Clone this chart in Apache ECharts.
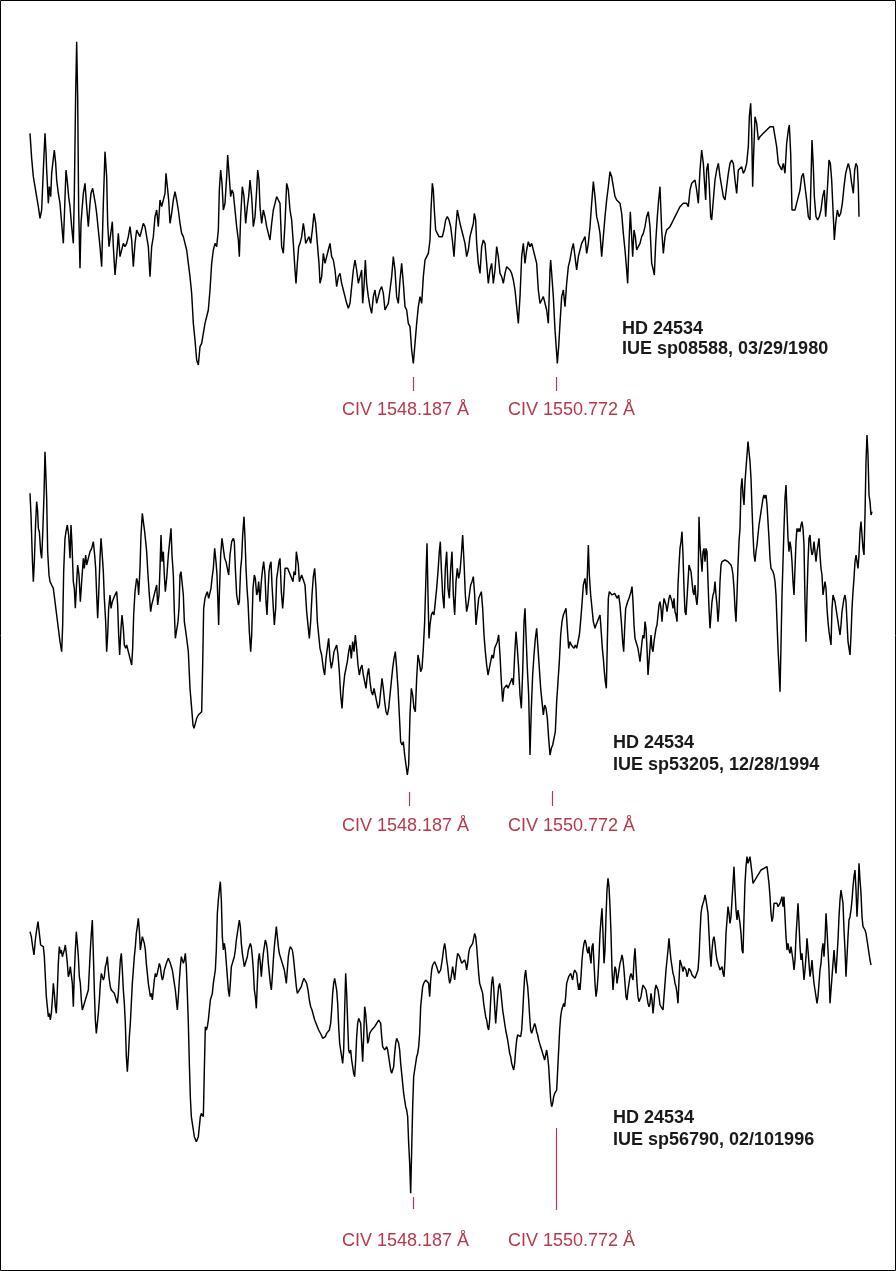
<!DOCTYPE html>
<html>
<head>
<meta charset="utf-8">
<script src="https://cdn.jsdelivr.net/npm/echarts@6/dist/echarts.min.js"></script>
<style>
html,body{margin:0;padding:0;background:#fff}
#chart{width:896px;height:1271px}
</style>
</head>
<body>
<div id="chart"></div>
<script>
// IUE SWP high-dispersion spectra of HD 24534 around the C IV resonance doublet.
// Each spectrum is a list of [sample, flux] pairs; samples are turned into
// wavelengths with a linear dispersion relation (one zero point per exposure).
const zeroPoints = [1540.7213, 1540.7936, 1540.7213]; // wavelength (Å) at sample 0
const DISPERSION = 0.0060256;  // Å per sample
const SAMPLE_SPAN = 2688;      // samples across the plotted window

const civLines = [1548.187, 1550.772];
const civLabels = ['CIV 1548.187 Å', 'CIV 1550.772 Å'];

const starName = 'HD 24534';
const observations = ['IUE sp08588, 03/29/1980', 'IUE sp53205, 12/28/1994', 'IUE sp56790, 02/101996'];

const sp08588 = [
[90,790],[95,715],[100,660],[105,630],[110,600],[115,570],[120,535],[125,560],[130,680],[135,790],[138,735],[140,680],[145,580],[148,630],[152,600],[155,670],[160,715],[163,740],[167,700],[170,650],[175,610],[180,580],[185,520],[190,460],[193,540],[198,680],[202,645],[206,600],[210,570],[215,510],[220,460],[223,610],[227,910],[230,1065],[233,900],[236,560],[240,385],[243,520],[246,560],[250,610],[255,640],[260,570],[265,510],[270,580],[273,610],[278,625],[282,620],[286,580],[290,550],[295,500],[300,450],[305,390],[310,580],[315,735],[320,660],[323,520],[327,450],[332,450],[337,525],[340,450],[345,365],[350,420],[355,490],[360,420],[365,420],[370,460],[375,450],[380,460],[385,480],[390,510],[395,470],[400,390],[405,460],[410,500],[415,490],[420,480],[425,500],[430,520],[435,510],[440,480],[445,450],[450,360],[455,450],[460,480],[465,540],[470,560],[475,510],[480,590],[485,570],[490,590],[495,610],[498,670],[502,630],[506,590],[510,520],[515,550],[520,590],[525,615],[530,590],[535,560],[540,520],[545,490],[550,480],[555,460],[560,440],[565,400],[570,360],[575,310],[580,220],[585,170],[590,110],[595,95],[600,150],[605,160],[610,190],[615,220],[620,220],[625,260],[630,320],[635,400],[640,440],[645,460],[650,450],[655,500],[658,620],[662,680],[666,640],[670,560],[675,580],[680,660],[683,725],[687,670],[692,600],[696,620],[700,610],[705,560],[710,510],[715,470],[718,420],[722,540],[727,630],[732,600],[737,520],[742,570],[746,600],[750,650],[755,600],[760,510],[765,540],[770,620],[773,680],[777,650],[780,570],[785,520],[790,560],[795,540],[800,510],[805,490],[810,470],[815,520],[820,560],[825,580],[830,600],[835,590],[840,580],[845,450],[850,430],[855,520],[860,640],[865,620],[870,560],[875,530],[880,460],[885,380],[888,340],[892,400],[896,450],[900,460],
[905,480],[910,520],[913,500],[917,460],[922,470],[927,480],[932,460],[937,500],[942,550],[947,520],[952,460],[957,400],[960,340],[965,360],[970,430],[975,400],[980,420],[985,440],[990,460],[995,420],[1000,410],[1005,380],[1010,330],[1015,360],[1020,370],[1025,340],[1030,320],[1035,300],[1040,280],[1045,265],[1050,280],[1055,330],[1060,380],[1065,410],[1070,380],[1075,340],[1080,360],[1085,380],[1088,280],[1092,330],[1096,410],[1100,340],[1105,300],[1110,270],[1115,250],[1120,300],[1125,320],[1130,280],[1135,300],[1140,320],[1145,330],[1150,310],[1155,260],[1160,260],[1165,280],[1170,320],[1175,360],[1180,420],[1185,380],[1190,300],[1195,280],[1200,350],[1205,400],[1210,340],[1215,270],[1220,260],[1225,220],[1230,210],[1235,140],[1240,100],[1245,160],[1250,220],[1255,270],[1260,300],[1265,280],[1270,360],[1275,410],[1280,420],[1285,430],[1290,470],[1293,560],[1297,640],[1300,620],[1303,560],[1307,500],[1312,490],[1317,480],[1322,480],[1327,480],[1332,500],[1337,530],[1342,540],[1347,530],[1352,510],[1357,470],[1362,420],[1367,500],[1372,560],[1375,560],[1380,520],[1385,500],[1390,500],[1395,460],[1400,420],[1405,440],[1410,480],[1415,500],[1420,520],[1423,550],[1427,530],[1430,460],[1435,400],[1440,370],[1445,450],[1450,470],[1455,460],[1460,400],[1465,340],[1470,380],[1475,400],[1480,340],[1485,380],[1490,450],[1495,420],[1500,370],[1505,360],[1510,340],[1515,370],[1520,390],[1525,390],[1530,380],[1535,370],[1540,350],[1545,320],[1550,270],[1555,220],[1560,300],[1565,420],[1570,460],[1575,400],[1580,440],[1585,465],[1590,450],[1595,460],[1600,440],[1605,440],[1610,400],[1615,320],[1620,280],[1625,290],[1630,300],[1635,300],[1640,260],[1645,220],[1650,380],[1652,410],[1655,370],[1660,300],[1665,200],[1670,130],[1672,100],[1676,150],[1680,220],[1685,300],[1690,320],[1695,270],[1700,340],[1705,390],[1710,410],[1715,440],[1720,460],[1725,420],[1730,380],[1735,420],[1740,440],
[1745,460],[1750,470],[1755,480],[1760,430],[1765,460],[1770,510],[1775,580],[1780,645],[1785,600],[1790,540],[1795,520],[1800,490],[1805,420],[1810,480],[1815,540],[1820,590],[1825,630],[1830,675],[1835,660],[1840,630],[1845,600],[1850,590],[1855,590],[1860,580],[1865,550],[1870,490],[1875,440],[1880,380],[1883,340],[1887,460],[1891,555],[1895,480],[1898,420],[1902,500],[1906,480],[1910,440],[1915,450],[1920,460],[1925,480],[1930,490],[1935,510],[1940,540],[1945,555],[1950,510],[1955,400],[1960,380],[1963,365],[1967,460],[1972,540],[1976,590],[1980,630],[1985,500],[1990,430],[1995,480],[2000,500],[2005,500],[2010,510],[2015,520],[2020,530],[2025,540],[2030,550],[2035,560],[2040,570],[2045,575],[2050,580],[2055,575],[2060,580],[2065,570],[2070,620],[2075,640],[2080,640],[2085,650],[2090,620],[2095,580],[2100,680],[2105,740],[2110,700],[2113,650],[2117,590],[2120,680],[2124,700],[2128,630],[2132,540],[2135,530],[2140,590],[2145,650],[2150,680],[2155,700],[2160,660],[2165,630],[2170,600],[2175,590],[2180,630],[2185,670],[2190,700],[2195,710],[2200,700],[2205,650],[2210,610],[2215,680],[2220,680],[2225,690],[2230,670],[2235,680],[2240,700],[2245,750],[2248,840],[2252,880],[2255,800],[2258,630],[2260,700],[2265,840],[2270,820],[2275,770],[2280,780],[2285,785],[2290,790],[2295,795],[2300,800],[2305,805],[2310,810],[2315,815],[2320,810],[2325,780],[2330,750],[2335,700],[2340,690],[2345,680],[2350,700],[2355,670],[2360,760],[2365,800],[2368,815],[2372,730],[2376,560],[2380,555],[2385,560],[2390,580],[2395,600],[2400,620],[2405,660],[2410,670],[2415,630],[2420,590],[2425,540],[2430,530],[2433,650],[2436,770],[2440,690],[2443,600],[2448,540],[2453,530],[2458,540],[2463,560],[2468,600],[2473,620],[2477,540],[2482,620],[2487,710],[2491,700],[2495,650],[2500,540],[2503,470],[2507,520],[2512,560],[2517,540],[2522,550],[2527,580],[2532,630],[2537,670],[2542,690],[2545,700],[2550,680],[2555,640],[2560,610],[2564,680],[2568,700],[2572,690],[2575,630],[2577,540]
];

const sp53205 = [
[90,955],[93,890],[97,760],[100,690],[103,750],[107,870],[110,930],[113,900],[115,850],[118,840],[122,780],[125,760],[128,830],[132,950],[135,1080],[138,1000],[140,940],[143,780],[147,710],[150,690],[155,680],[160,670],[165,630],[170,590],[175,550],[180,510],[185,480],[188,560],[191,720],[195,820],[198,840],[202,860],[206,830],[210,760],[213,860],[216,800],[220,690],[223,670],[226,610],[230,690],[233,740],[237,710],[241,630],[245,690],[250,760],[253,730],[257,770],[260,740],[265,760],[270,780],[275,790],[280,810],[284,770],[287,730],[290,650],[293,580],[296,650],[300,760],[303,820],[306,780],[310,720],[313,640],[317,570],[320,480],[323,530],[326,610],[330,650],[333,610],[337,630],[341,640],[345,650],[350,660],[353,620],[356,530],[359,470],[363,550],[366,590],[370,550],[373,500],[377,490],[380,500],[385,480],[390,480],[395,440],[398,490],[401,590],[405,660],[410,700],[413,690],[416,650],[420,730],[423,830],[427,895],[430,870],[434,840],[437,810],[440,780],[444,710],[448,650],[452,600],[455,620],[460,640],[465,660],[470,680],[473,620],[477,650],[480,730],[483,830],[486,750],[490,780],[493,710],[496,660],[500,700],[505,770],[510,820],[513,850],[516,770],[520,710],[523,600],[526,520],[530,520],[534,570],[537,610],[540,710],[543,720],[546,720],[550,650],[553,570],[556,550],[560,520],[565,480],[570,370],[575,310],[579,260],[582,250],[587,250],[590,280],[595,290],[600,290],[605,300],[608,440],[611,610],[615,640],[618,650],[622,660],[626,640],[630,640],[633,670],[636,700],[640,730],[644,790],[648,750],[651,710],[654,620],[656,560],[658,650],[662,770],[666,820],[670,790],[674,760],[678,750],[682,730],[686,710],[690,770],[695,810],[700,820],[703,810],[706,730],[710,650],[715,620],[718,630],[722,730],[725,760],[728,830],[732,885],[735,820],[738,730],[741,670],[744,630],[748,540],[752,480],[755,530],[759,670],[763,710],[766,700],[770,650],[773,660],[776,690],[780,630],[784,690],[788,730],[791,750],[795,710],[798,630],[801,590],[804,660],[807,720],[810,740],[813,750],[816,680],[820,610],[823,560],[827,610],[830,700],[833,720],[837,750],[840,760],[844,660],[848,610],[851,650],[855,730],[859,735],[863,730],[867,720],[871,710],[875,700],[879,690],[882,720],[886,710],[889,780],[892,760],[895,740],[898,690],
[900,690],[905,710],[910,715],[915,680],[920,600],[925,550],[928,520],[932,570],[936,650],[940,705],[944,730],[948,670],[952,570],[956,530],[960,490],[965,470],[970,430],[974,410],[978,460],[982,490],[986,520],[990,460],[994,430],[998,450],[1002,480],[1006,490],[1010,500],[1014,470],[1018,420],[1022,350],[1026,310],[1030,370],[1034,410],[1038,430],[1042,450],[1046,480],[1050,500],[1054,460],[1058,510],[1062,480],[1066,530],[1070,490],[1074,440],[1078,410],[1082,430],[1086,440],[1090,410],[1094,390],[1098,370],[1102,410],[1106,430],[1110,390],[1114,360],[1118,350],[1122,370],[1126,350],[1130,330],[1134,310],[1138,320],[1142,360],[1146,400],[1150,370],[1154,330],[1158,300],[1162,290],[1166,310],[1170,350],[1174,390],[1178,430],[1182,460],[1186,480],[1190,430],[1194,370],[1198,290],[1202,210],[1206,200],[1210,210],[1214,170],[1218,140],[1222,110],[1226,140],[1230,290],[1234,370],[1238,350],[1242,310],[1246,300],[1250,400],[1254,470],[1258,450],[1262,420],[1266,430],[1270,490],[1274,570],[1278,710],[1281,805],[1284,650],[1287,520],[1290,560],[1294,590],[1298,600],[1302,590],[1306,630],[1310,670],[1314,720],[1318,780],[1321,810],[1324,730],[1328,650],[1332,610],[1336,730],[1340,780],[1344,670],[1348,640],[1352,730],[1356,780],[1360,650],[1364,590],[1368,690],[1372,730],[1376,700],[1380,720],[1384,770],[1388,830],[1392,750],[1396,650],[1400,600],[1404,620],[1408,650],[1412,680],[1416,690],[1420,705],[1424,650],[1428,560],[1432,600],[1436,640],[1440,650],[1444,660],[1448,610],[1452,530],[1456,480],[1460,440],[1464,410],[1468,430],[1472,450],[1476,470],[1480,460],[1484,490],[1488,500],[1492,510],[1496,530],[1500,470],[1504,390],[1508,330],[1512,370],[1516,370],[1520,380],[1524,370],[1528,380],[1532,390],[1536,400],[1540,380],[1544,470],[1548,540],[1552,490],[1556,430],[1560,350],[1564,310],[1568,420],[1572,570],[1575,610],[1578,530],[1582,430],[1586,350],[1590,170],[1594,310],[1598,410],[1602,470],[1606,520],[1610,550],[1614,490],[1618,430],[1622,370],[1626,330],[1630,290],[1634,320],[1638,310],[1642,280],[1646,220],[1650,170],[1654,190],[1658,200],[1662,200],[1666,240],[1670,330],[1674,390],[1678,450],[1682,530],[1686,570],[1690,590],[1694,600],[1698,610],[1702,550],[1706,490],[1710,510],[1714,500],[1718,500],[1722,490],[1726,500],[1730,490],[1734,490],[1738,530],
[1740,550],[1745,610],[1750,680],[1755,700],[1760,650],[1765,800],[1768,710],[1772,650],[1775,620],[1780,570],[1785,550],[1788,560],[1792,570],[1796,580],[1800,590],[1803,550],[1807,490],[1810,460],[1813,420],[1816,390],[1819,370],[1822,510],[1825,640],[1828,660],[1832,665],[1836,650],[1840,650],[1844,655],[1848,650],[1852,640],[1856,650],[1860,620],[1864,570],[1868,510],[1871,480],[1874,550],[1877,610],[1880,620],[1883,630],[1887,640],[1890,640],[1893,660],[1896,675],[1899,630],[1902,560],[1905,520],[1908,510],[1911,510],[1914,490],[1917,470],[1920,450],[1923,480],[1926,510],[1929,530],[1932,520],[1935,570],[1938,550],[1941,490],[1944,410],[1947,450],[1950,490],[1953,530],[1956,490],[1959,480],[1962,510],[1965,530],[1968,550],[1971,560],[1974,590],[1977,620],[1980,630],[1983,610],[1986,570],[1989,610],[1992,640],[1995,630],[1998,620],[2001,600],[2004,620],[2007,640],[2010,650],[2013,640],[2016,630],[2019,610],[2022,640],[2025,600],[2028,590],[2031,570],[2034,680],[2037,740],[2040,790],[2043,810],[2046,840],[2049,770],[2052,670],[2055,600],[2058,590],[2061,640],[2064,690],[2067,740],[2070,730],[2073,720],[2076,690],[2079,660],[2082,650],[2085,680],[2088,640],[2091,620],[2094,660],[2097,885],[2100,800],[2103,760],[2106,720],[2109,780],[2112,790],[2115,750],[2118,790],[2121,780],[2124,690],[2127,610],[2130,550],[2133,590],[2136,630],[2139,650],[2142,660],[2145,690],[2148,650],[2151,620],[2154,570],[2157,610],[2160,690],[2163,740],[2166,750],[2169,755],[2172,750],[2175,755],[2178,760],[2181,755],[2184,750],[2187,750],[2190,755],[2193,740],[2196,730],[2199,710],[2202,670],[2205,610],[2208,570],[2211,650],[2214,740],[2217,810],[2220,850],[2223,970],[2226,1000],[2229,950],[2232,920],[2235,990],[2238,1030],[2241,1070],[2244,1110],[2247,1080],[2250,1050],[2253,1000],[2256,910],[2259,830],[2262,770],[2265,750],[2268,780],[2271,800],[2274,830],[2277,860],[2280,880],[2283,900],[2286,920],[2289,940],[2292,950],[2295,940],[2298,950],[2301,920],[2304,870],[2307,820],[2310,760],[2313,730],[2316,730],[2319,720],[2322,710],[2325,690],[2328,650],[2331,570],[2334,490],[2337,430],[2340,360],[2343,500],[2346,650],[2349,750],[2352,850],[2355,940],[2358,980],[2361,900],[2364,820],[2367,780],[2370,810],[2373,790],[2376,750],[2379,690],[2382,650],[2385,730],[2388,810],[2391,850],[2394,840],[2397,850],[2400,840],[2403,860],[2406,870],[2409,850],[2412,800],[2415,630],[2418,510],[2421,650],[2424,750],[2427,820],[2430,830],[2433,790],[2436,770],[2439,780],[2442,810],[2445,780],[2448,750],[2451,780],[2454,800],[2457,820],[2460,770],[2463,730],[2466,710],[2469,650],[2472,670],[2475,690],[2478,670],[2481,610],[2484,570],[2487,540],[2490,520],[2493,500],[2496,610],[2499,650],[2502,650],[2505,630],[2508,610],[2511,590],[2514,570],[2517,550],[2520,530],[2523,560],[2526,600],[2529,620],[2532,640],[2535,650],[2538,630],[2541,570],[2544,510],[2547,490],[2550,470],[2553,530],[2556,610],[2559,660],[2562,700],[2565,750],[2568,770],[2571,750],[2574,730],[2577,770],[2580,840],[2583,870],[2586,830],[2589,790],[2592,770],[2595,890],[2598,1050],[2601,1130],[2604,1070],[2607,950],[2610,930],[2613,890],[2616,900]
];

const sp56790 = [
[90,905],[94,890],[98,860],[102,835],[106,880],[110,910],[114,935],[118,900],[122,865],[126,860],[130,860],[133,830],[136,770],[139,710],[142,680],[145,650],[148,660],[151,640],[154,660],[157,700],[160,750],[163,720],[166,680],[169,660],[172,730],[175,810],[178,860],[181,840],[184,850],[187,830],[190,840],[193,850],[196,865],[199,840],[202,810],[205,770],[208,780],[211,800],[214,805],[217,750],[220,680],[223,780],[226,850],[229,905],[232,870],[235,830],[238,770],[241,750],[244,700],[247,670],[250,680],[253,690],[256,700],[259,700],[262,700],[265,730],[268,790],[271,850],[274,900],[277,940],[280,840],[283,730],[286,640],[289,600],[292,630],[295,660],[298,700],[301,750],[304,780],[307,770],[310,760],[313,770],[316,800],[319,810],[322,830],[325,790],[328,760],[331,740],[334,730],[337,730],[340,730],[343,720],[346,710],[349,700],[352,690],[355,720],[358,770],[361,820],[364,840],[367,790],[370,730],[373,690],[376,630],[379,530],[382,485],[385,530],[388,590],[391,630],[394,690],[397,750],[400,790],[403,830],[406,860],[409,900],[412,920],[415,945],[418,910],[421,850],[424,870],[427,890],[430,880],[433,870],[436,850],[439,810],[442,780],[445,750],[448,730],[451,710],[454,720],[457,700],[460,730],[463,760],[466,780],[469,770],[472,780],[475,785],[478,810],[481,800],[484,775],[487,760],[490,770],[493,790],[496,800],[499,810],[502,815],[505,825],[508,820],[511,810],[514,800],[517,790],[520,770],[523,750],[526,730],[529,700],[532,670],[535,710],[538,760],[541,800],[544,830],[547,820],[550,810],[553,820],[556,840],[559,800],[562,720],[565,630],[568,510],[571,410],[574,350],[577,330],[580,310],[583,290],[586,285],[589,275],[592,270],[595,290],[598,320],[601,350],[604,360],[607,360],[610,350],[613,490],[616,620],[619,610],[622,620],[625,640],[628,670],[631,700],[634,710],[637,720],[640,750],[643,770],[646,790],[649,850],[652,960],[655,1000],[658,1030],[661,1055],[664,1000],[667,890],[670,850],[673,870],[676,850],[679,810],[682,770],[685,730],[688,710],[691,750],[694,800],[697,810],[700,820],[703,830],[706,850],[709,880],[712,900],[715,920],[718,940],[721,920],[724,870],[727,840],[730,820],[733,800],[736,805],[739,820],[742,830],[745,850],[748,860],[751,870],[754,860],[757,830],[760,790],[763,730],[766,710],[769,675],[772,750],[775,820],[778,840],[781,810],[784,770],[787,810],[790,840],[793,860],[796,880],[799,870],[802,850],[805,810],[808,780],[811,750],[814,730],[817,770],[820,820],[823,860],[826,890],[829,920],[832,890],[835,860],[838,840],[841,830],[844,820],[847,810],[850,800],[853,790],[856,770],[859,750],[862,790],[865,830],[868,850],[871,860],[874,855],[877,850],[880,830],[883,800],[886,770],[889,740],[892,720],[895,715],[898,720],
[900,720],[904,740],[908,755],[912,765],[916,760],[920,750],[924,730],[928,700],[932,680],[936,670],[940,655],[944,640],[948,630],[952,620],[956,610],[960,605],[964,595],[968,585],[972,580],[976,590],[980,600],[984,605],[988,610],[992,630],[995,670],[998,720],[1001,750],[1004,765],[1007,760],[1010,730],[1013,690],[1016,620],[1019,570],[1022,550],[1025,530],[1028,510],[1031,550],[1034,670],[1037,780],[1040,720],[1043,630],[1046,550],[1049,540],[1052,550],[1055,520],[1058,500],[1061,480],[1064,470],[1067,520],[1070,590],[1073,630],[1076,645],[1079,640],[1082,630],[1085,570],[1088,515],[1091,590],[1094,680],[1097,660],[1100,620],[1103,570],[1106,580],[1109,600],[1112,605],[1115,610],[1118,610],[1121,615],[1124,620],[1127,625],[1130,630],[1133,635],[1136,640],[1139,645],[1142,630],[1145,590],[1148,560],[1151,555],[1154,550],[1157,555],[1160,560],[1163,550],[1166,530],[1169,510],[1172,490],[1175,480],[1178,475],[1181,500],[1184,540],[1187,570],[1190,585],[1193,580],[1196,570],[1199,550],[1202,510],[1205,480],[1208,450],[1211,420],[1214,400],[1217,380],[1220,370],[1223,350],[1226,270],[1229,210],[1232,120],[1235,250],[1238,380],[1241,470],[1244,490],[1247,510],[1250,530],[1253,540],[1256,560],[1259,600],[1262,680],[1265,710],[1268,740],[1271,750],[1274,755],[1277,760],[1280,765],[1283,765],[1286,750],[1289,710],[1292,760],[1295,790],[1298,805],[1301,810],[1304,815],[1307,810],[1310,800],[1313,790],[1316,780],[1319,780],[1322,790],[1325,810],[1328,830],[1331,855],[1334,870],[1337,850],[1340,820],[1343,800],[1346,770],[1349,750],[1352,760],[1355,780],[1358,800],[1361,780],[1364,760],[1367,790],[1370,820],[1373,840],[1376,840],[1379,830],[1382,820],[1385,810],[1388,805],[1391,815],[1394,820],[1397,810],[1400,790],[1403,810],[1406,840],[1409,855],[1412,850],[1415,855],[1418,870],[1421,885],[1424,900],[1427,890],[1430,860],[1433,820],[1436,780],[1439,750],[1442,740],[1445,730],[1448,720],[1451,690],[1454,670],[1457,650],[1460,640],[1463,620],[1466,610],[1469,640],[1472,700],[1475,750],[1478,770],[1481,740],[1484,680],[1487,630],[1490,670],[1493,710],[1496,740],[1499,750],[1502,730],[1505,700],[1508,670],[1511,650],[1514,630],[1517,610],[1520,595],[1523,580],[1526,560],[1529,540],[1532,530],[1535,510],[1538,500],[1541,490],[1544,510],[1547,550],[1550,580],[1553,595],[1556,600],[1559,600],[1562,590],[1565,610],[1568,660],[1571,720],[1574,770],[1577,790],[1580,760],[1583,740],[1586,700],[1589,650],[1592,610],[1595,600],[1598,610],[1601,620],[1604,630],[1607,620],[1610,605],[1613,595],[1616,580],[1619,570],[1622,560],[1625,550],[1628,540],[1631,530],[1634,520],[1637,525],[1640,550],[1643,530],[1646,500],[1649,450],[1652,400],[1655,380],[1658,390],[1661,410],[1664,420],[1667,420],[1670,430],[1673,490],[1676,550],[1679,610],[1682,650],[1685,670],[1688,680],[1691,690],[1694,680],[1697,710],[1700,750],[1703,760],[1706,770],[1709,770],[1712,780],[1715,770],[1718,760],[1721,780],[1724,790],[1727,795],[1730,780],[1733,750],[1736,730],[1739,750],
[1740,730],[1743,770],[1746,820],[1749,850],[1752,870],[1755,880],[1758,870],[1761,850],[1764,840],[1767,860],[1770,830],[1773,810],[1776,860],[1779,870],[1782,810],[1785,750],[1788,710],[1791,730],[1794,770],[1797,830],[1800,900],[1803,940],[1806,975],[1809,900],[1812,810],[1815,850],[1818,950],[1821,1030],[1824,1065],[1827,1040],[1830,980],[1833,900],[1836,790],[1839,730],[1842,770],[1845,800],[1848,790],[1851,750],[1854,770],[1857,790],[1860,810],[1863,820],[1866,835],[1869,820],[1872,790],[1875,750],[1878,710],[1881,700],[1884,730],[1887,750],[1890,770],[1893,780],[1896,770],[1899,760],[1902,820],[1905,855],[1908,800],[1911,750],[1914,710],[1917,695],[1920,700],[1923,710],[1926,730],[1929,745],[1932,750],[1935,740],[1938,730],[1941,710],[1944,690],[1947,680],[1950,690],[1953,720],[1956,700],[1959,660],[1962,690],[1965,730],[1968,745],[1971,740],[1974,730],[1977,710],[1980,685],[1983,680],[1986,690],[1989,670],[1992,710],[1995,750],[1998,790],[2001,820],[2004,850],[2007,885],[2010,850],[2013,820],[2016,800],[2019,780],[2022,770],[2025,750],[2028,740],[2031,720],[2034,690],[2037,760],[2040,820],[2043,810],[2046,800],[2049,785],[2052,800],[2055,805],[2058,790],[2061,770],[2064,780],[2067,795],[2070,800],[2073,785],[2076,775],[2079,770],[2082,775],[2085,765],[2088,760],[2091,770],[2094,790],[2097,830],[2100,900],[2103,960],[2106,980],[2109,990],[2112,1000],[2115,1015],[2118,1000],[2121,980],[2124,960],[2127,900],[2130,840],[2133,800],[2136,850],[2139,880],[2142,890],[2145,870],[2148,840],[2151,820],[2154,810],[2157,800],[2160,790],[2163,790],[2166,800],[2169,780],[2172,770],[2175,820],[2178,900],[2181,940],[2184,980],[2187,960],[2190,930],[2193,950],[2196,1000],[2199,1050],[2202,1100],[2205,1030],[2208,970],[2211,940],[2214,970],[2217,950],[2220,930],[2223,900],[2226,850],[2229,840],[2232,950],[2235,1050],[2238,1100],[2241,1130],[2244,1110],[2247,1120],[2250,1130],[2253,1130],[2256,1080],[2259,1050],[2262,1055],[2265,1060],[2268,1065],[2271,1070],[2274,1075],[2277,1080],[2280,1085],[2283,1090],[2286,1095],[2289,1090],[2292,1095],[2295,1100],[2298,1095],[2301,1100],[2304,1075],[2307,1050],[2310,1010],[2313,960],[2316,935],[2319,950],[2322,990],[2325,990],[2328,985],[2331,990],[2334,980],[2337,985],[2340,990],[2343,1000],[2346,1010],[2349,980],[2352,1010],[2355,950],[2358,890],[2361,850],[2364,870],[2367,850],[2370,840],[2373,860],[2376,860],[2379,820],[2382,790],[2385,820],[2388,890],[2391,940],[2394,990],[2397,930],[2400,860],[2403,820],[2406,840],[2409,800],[2412,760],[2415,790],[2418,830],[2421,885],[2424,850],[2427,810],[2430,770],[2433,790],[2436,820],[2439,780],[2442,750],[2445,730],[2448,710],[2451,690],[2454,710],[2457,750],[2460,790],[2463,810],[2466,850],[2469,870],[2472,830],[2475,880],[2478,960],[2481,910],[2484,850],[2487,790],[2490,690],[2493,730],[2496,770],[2499,810],[2502,850],[2505,810],[2508,780],[2511,830],[2514,880],[2517,950],[2520,1000],[2523,1030],[2526,1035],[2529,990],[2532,910],[2535,850],[2538,770],[2541,830],[2544,890],[2547,940],[2550,950],[2553,970],[2556,1000],[2559,1040],[2562,1070],[2565,1090],[2568,1030],[2571,950],[2574,1010],[2577,1110],[2580,1060],[2583,1020],[2586,950],[2589,920],[2592,925],[2595,910],[2598,900],[2601,880],[2604,860],[2607,840],[2610,820],[2613,805]
];

const spectra = [sp08588, sp53205, sp56790];

// Panel layout: vertical placement, flux window, C IV tick extents (flux units),
// and the placement of the annotation text.
const panels = [
  { top: 30,  height: 370, fluxMin: -10, fluxMax: 1100, ticks: [[59, 17], [59, 17]],   lineLabelY: 410,  infoX: 622, infoY: [329, 349] },
  { top: 395, height: 420, fluxMin: -10, fluxMax: 1250, ticks: [[59, 17], [62, 17]],   lineLabelY: 826,  infoX: 613, infoY: [743, 765] },
  { top: 850, height: 370, fluxMin: 40,  fluxMax: 1150, ticks: [[109, 73], [316, 70]], lineLabelY: 1241, infoX: 613, infoY: [1118, 1140] }
];

const RED = '#b8394a';
const FONT = '"Liberation Sans", Arial, Helvetica, sans-serif';
const lineLabelX = [342, 508];

const grids = [], xAxes = [], yAxes = [], series = [], graphics = [];

panels.forEach((p, i) => {
  const z = zeroPoints[i];
  const toWavelength = s => z + s * DISPERSION;
  grids.push({ left: 0, right: 0, top: p.top, height: p.height });
  xAxes.push({ type: 'value', gridIndex: i, min: z, max: toWavelength(SAMPLE_SPAN), show: false });
  yAxes.push({ type: 'value', gridIndex: i, min: p.fluxMin, max: p.fluxMax, show: false });
  series.push({
    type: 'line',
    xAxisIndex: i,
    yAxisIndex: i,
    data: spectra[i].map(([s, f]) => [toWavelength(s), f]),
    showSymbol: false,
    symbol: 'none',
    clip: false,
    lineStyle: { color: '#000', width: 1.45 },
    silent: true,
    markLine: {
      silent: true,
      symbol: ['none', 'none'],
      label: { show: false },
      lineStyle: { color: RED, width: 1.2, type: 'solid' },
      data: civLines.map((w, k) => [
        { coord: [w, p.ticks[k][0]] },
        { coord: [w, p.ticks[k][1]] }
      ])
    }
  });

  civLabels.forEach((t, k) => {
    graphics.push({
      type: 'text', silent: true,
      style: { text: t, x: lineLabelX[k], y: p.lineLabelY, fill: RED,
               font: '18px ' + FONT, textAlign: 'left', textVerticalAlign: 'middle' }
    });
  });
  [starName, observations[i]].forEach((t, k) => {
    graphics.push({
      type: 'text', silent: true,
      style: { text: t, x: p.infoX, y: p.infoY[k], fill: '#1a1a1a',
               font: 'bold 18px ' + FONT, textAlign: 'left', textVerticalAlign: 'middle' }
    });
  });
});

// thin frame around the whole figure
graphics.push({
  type: 'rect', silent: true,
  shape: { x: 0.5, y: 0.5, width: 895, height: 1270 },
  style: { fill: 'none', stroke: '#000', lineWidth: 1 }
});

const chart = echarts.init(document.getElementById('chart'), null, { renderer: 'canvas' });
chart.setOption({
  backgroundColor: '#fff',
  animation: false,
  grid: grids,
  xAxis: xAxes,
  yAxis: yAxes,
  series: series,
  graphic: graphics
});
</script>
</body>
</html>
